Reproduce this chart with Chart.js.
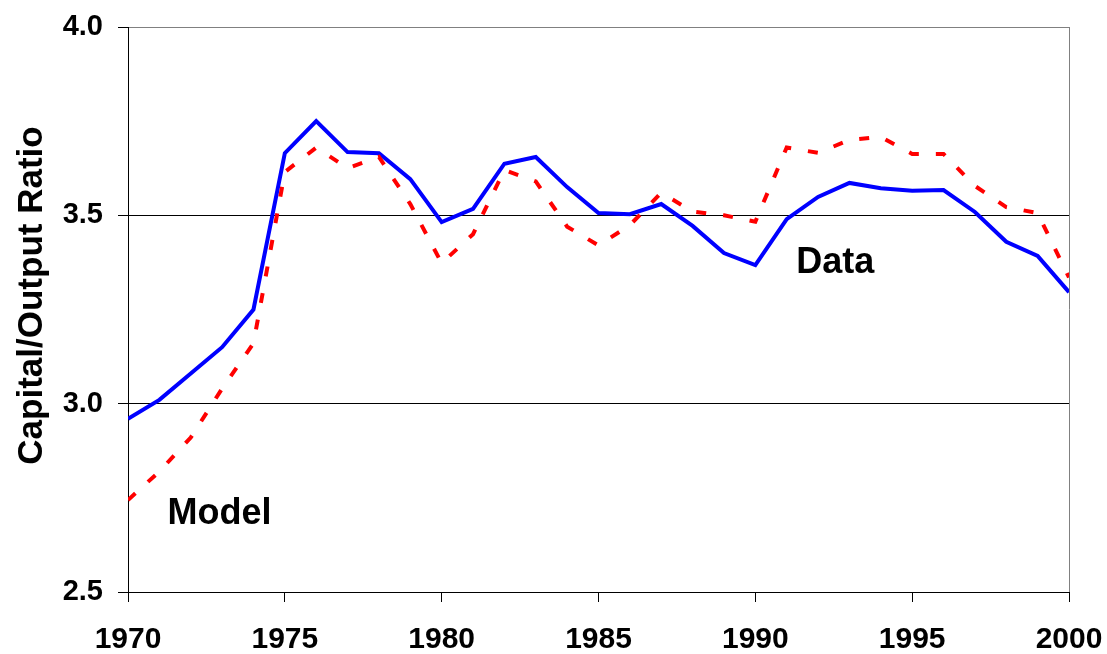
<!DOCTYPE html>
<html>
<head>
<meta charset="utf-8">
<script src="https://cdn.jsdelivr.net/npm/chart.js@4.4.0/dist/chart.umd.min.js"></script>
<style>
  html, body { margin: 0; padding: 0; background: #fff; }
  canvas { display: block; }
</style>
</head>
<body>
<canvas id="c" width="1107" height="654"></canvas>
<script>
const years = [1970,1971,1972,1973,1974,1975,1976,1977,1978,1979,1980,1981,1982,1983,1984,1985,1986,1987,1988,1989,1990,1991,1992,1993,1994,1995,1996,1997,1998,1999,2000];
const dataSeries = [2.96,3.01,3.08,3.15,3.25,3.665,3.75,3.668,3.665,3.596,3.482,3.517,3.637,3.655,3.575,3.506,3.503,3.53,3.472,3.40,3.368,3.49,3.549,3.586,3.572,3.565,3.567,3.509,3.43,3.392,3.296];
const modelSeries = [2.744,2.82,2.91,3.04,3.16,3.615,3.68,3.625,3.655,3.53,3.373,3.45,3.62,3.59,3.47,3.42,3.474,3.56,3.51,3.50,3.483,3.68,3.666,3.70,3.708,3.663,3.663,3.578,3.522,3.506,3.335];
const seriesNames = ['Data', 'Model'];
const yTitle = 'Capital/Output Ratio';
// label anchors in data coordinates [year, value]
const labelAnchors = { Data: [1992.55, 3.347], Model: [1972.92, 2.681] };

const FONT = "Arial, 'Liberation Sans', sans-serif";

const labelPlugin = {
  id: 'seriesLabels',
  afterDatasetsDraw(chart) {
    const { ctx, chartArea, scales: { x, y } } = chart;
    ctx.save();
    ctx.font = "bold 36px " + FONT;
    ctx.fillStyle = '#000';
    ctx.textAlign = 'center';
    ctx.textBaseline = 'alphabetic';
    seriesNames.forEach(n => {
      const [yr, v] = labelAnchors[n];
      ctx.fillText(n, x.getPixelForValue(yr), y.getPixelForValue(v));
    });
    // y-axis title
    ctx.font = "bold 35px " + FONT;
    ctx.textBaseline = 'middle';
    ctx.translate(32, (chartArea.top + chartArea.bottom) / 2 - 14);
    ctx.rotate(-Math.PI / 2);
    ctx.fillText(yTitle, 0, 0);
    ctx.restore();
  }
};

new Chart(document.getElementById('c'), {
  type: 'line',
  data: {
    datasets: [
      {
        label: seriesNames[1],
        data: years.map((yr, i) => ({ x: yr, y: modelSeries[i] })),
        borderColor: '#FF0000',
        borderWidth: 4,
        borderDash: [10, 17],
        pointRadius: 0,
        tension: 0,
        fill: false
      },
      {
        label: seriesNames[0],
        data: years.map((yr, i) => ({ x: yr, y: dataSeries[i] })),
        borderColor: '#0000FF',
        borderWidth: 4,
        pointRadius: 0,
        tension: 0,
        fill: false
      }
    ]
  },
  options: {
    responsive: false,
    animation: false,
    devicePixelRatio: 1,
    layout: { padding: { left: 0, top: 27, right: 38, bottom: 0 } },
    plugins: { legend: { display: false }, tooltip: { enabled: false } },
    scales: {
      x: {
        type: 'linear',
        min: 1970,
        max: 2000,
        afterFit(s) { s.height = 62; s.paddingLeft = 0; s.paddingRight = 0; },
        ticks: {
          stepSize: 5,
          color: '#000',
          padding: 20,
          maxRotation: 0,
          font: { family: FONT, size: 30, weight: 'bold' },
          callback: v => String(v)
        },
        grid: {
          color: c => (c.tick && c.tick.value === 2000) ? '#808080' : 'rgba(0,0,0,0)',
          lineWidth: 1,
          tickColor: '#000',
          tickLength: 10,
          drawTicks: true
        },
        border: { color: '#000', width: 1 }
      },
      y: {
        min: 2.5,
        max: 4.0,
        afterFit(s) { s.width = 128; s.paddingTop = 0; s.paddingBottom = 0; },
        ticks: {
          stepSize: 0.5,
          color: '#000',
          padding: 15,
          font: { family: FONT, size: 29, weight: 'bold' },
          callback: v => Number(v).toFixed(1)
        },
        grid: {
          color: c => (c.tick && c.tick.value === 4) ? '#808080' : '#000',
          lineWidth: 1,
          tickColor: '#000',
          tickLength: 10,
          drawTicks: true
        },
        border: { color: '#000', width: 1 }
      }
    }
  },
  plugins: [labelPlugin]
});
</script>
</body>
</html>
